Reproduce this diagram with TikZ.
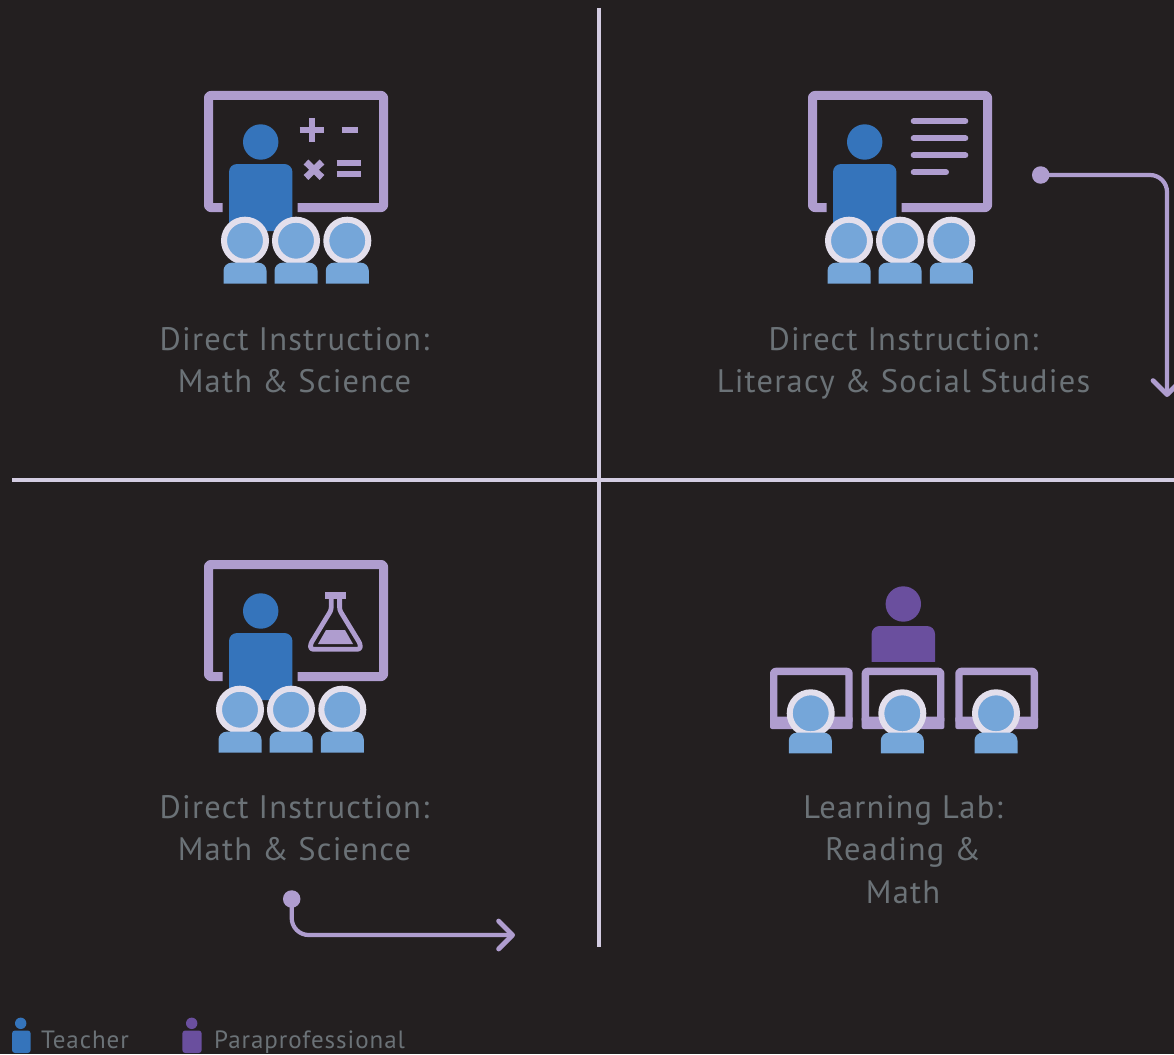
\documentclass[tikz,border=0pt]{standalone}
\usepackage{fontspec}
\setmainfont{PT Sans}[LetterSpace=3.8]
\usetikzlibrary{arrows.meta}
\definecolor{bgc}{HTML}{231F20}
\definecolor{boardc}{HTML}{AF9DCF}
\definecolor{teachc}{HTML}{3574BB}
\definecolor{studc}{HTML}{75A6D9}
\definecolor{ringc}{HTML}{E3DFEC}
\definecolor{parac}{HTML}{6A4F9E}
\definecolor{txtc}{HTML}{6B7277}
\definecolor{axisc}{HTML}{D3CCE2}
\tikzset{
  x=1pt,y=-1pt,
  label/.style={text=txtc,font=\fontsize{32.5}{42.5}\selectfont,align=center,inner sep=0pt},
  legendtxt/.style={text=txtc,font=\fontsize{25}{26}\selectfont,anchor=base west,inner sep=0pt},
  axis/.style={draw=axisc,line width=3.8pt},
  flow/.style={draw=boardc,line width=4.2pt,rounded corners=17pt,line cap=round,
    -{Straight Barb[length=14pt,width=28pt,line width=4.8pt,round]}},
  dot/.style={circle,fill=boardc,minimum size=17.5pt,inner sep=0pt},
  sym/.style={draw=boardc,line width=6pt,line cap=round},
  symb/.style={draw=boardc,line width=6.4pt},
  pics/studenthead/.style={code={
    \path[draw=ringc,fill=studc,line width=6pt] (0,0) circle (21);
  }},
  pics/studentbody/.style={code={
    \path[fill=studc] (-21.5,20.8) -- (-21.5,9) [rounded corners=8pt] -- (-21.5,0) -- (21.5,0) [sharp corners] -- (21.5,20.8) -- cycle;
  }},
  pics/person/.style={code={
    \path[fill=#1] (0,0) circle (17.7);
    \path[fill=#1,rounded corners=8pt] (-31.7,22) rectangle (31.7,89);
  }},
  pics/classroom/.style={code={
    \draw[boardc,line width=9pt,line join=round,rounded corners=2pt]
      (18.6,116.5) -- (4.5,116.5) -- (4.5,4.5) -- (179.5,4.5) -- (179.5,116.5) -- (93.5,116.5);
    \pic at (56.7,51) {person=teachc};
    \foreach \sx in {#1,51+#1,102.3+#1} {
      \pic at (\sx,149.7) {studenthead};
      \pic at (\sx,171.7) {studentbody};
    }
  }},
}
\begin{document}
\begin{tikzpicture}
\useasboundingbox[fill=bgc] (0,0) rectangle (1174,1054);
% axes
\coordinate (vt) at (599,8); \coordinate (vb) at (599,947);
\coordinate (hl) at (12,480); \coordinate (hr) at (1174,480);
\draw[axis] (vt) -- (vb);
\draw[axis] (hl) -- (hr);
% icon 1
\begin{scope}[shift={(204,91)}]
  \pic {classroom=41};
  \draw[symb] (95.7,39) -- (119.7,39) (107.7,27) -- (107.7,51);
  \draw[symb] (137.7,39) -- (154.3,39);
  \draw[symb,line width=6.8pt] (102,71) -- (118,86.5) (118,71) -- (102,86.5);
  \draw[symb] (132.7,71.7) -- (157,71.7) (132.7,83) -- (157,83);
\end{scope}
% icon 2
\begin{scope}[shift={(808,91)}]
  \pic {classroom=41};
  \draw[sym] (105.7,30.3) -- (157.3,30.3) (105.7,47.3) -- (157.3,47.3) (105.7,64.3) -- (157.3,64.3) (105.7,81.3) -- (138,81.3);
\end{scope}
% icon 3
\begin{scope}[shift={(204,560)}]
  \pic {classroom=36};
  \draw[boardc,line width=4.8pt,line join=round,rounded corners=2.5pt]
    (127.2,34) -- (127.2,50) -- (106.5,84) -- (106.5,89.2) -- (156.3,89.2) -- (156.3,84) -- (135.6,50) -- (135.6,34);
  \draw[boardc,line width=7pt] (121,35.5) -- (141.7,35.5);
  \fill[boardc] (122,70) -- (141,70) -- (149,84) -- (114,84) -- cycle;
\end{scope}
% icon 4
\pic at (903.3,604) {person=parac};
\fill[bgc] (865,662) rectangle (945,700);
\foreach \bx/\cx/\sx in {770/810.7/810.3,861.7/902.3/902.3,955.3/996/996}{
  \draw[boardc,line width=7.4pt,line join=round,rounded corners=2pt] (\bx+3.7,671.4) rectangle (\bx+79,722);
  \fill[boardc,rounded corners=2pt] (\bx,716.5) rectangle (\bx+82.7,729);
  \pic at (\cx,713.3) {studenthead};
  \pic at (\sx,732.6) {studentbody};
}
% labels
\node[label,anchor=base] (l1) at (294.5,392.5) {Direct Instruction:\\Math \& Science};
\node[label,anchor=base] (l2) at (903.5,392.5) {Direct Instruction:\\Literacy \& Social Studies};
\node[label,anchor=base] (l3) at (294.5,860.5) {Direct Instruction:\\Math \& Science};
\node[label,anchor=base] (l4) at (903,903) {Learning Lab:\\Reading \&\\Math};
% connectors
\node[dot] (d1) at (1040.7,175) {};
\coordinate (e1) at (1167,397);
\draw[flow] (d1.center) -| (e1);
\node[dot] (d2) at (291.7,899) {};
\coordinate (e2) at (515,935);
\draw[flow] (d2.center) |- (e2);
% legend
\fill[teachc] (20.7,1023.3) circle (5.7);
\fill[teachc,rounded corners=3pt] (12,1030.5) rectangle (30.7,1053);
\node[legendtxt] (lt) at (41,1048) {Teacher};
\fill[parac] (191.7,1023.3) circle (5.7);
\fill[parac,rounded corners=3pt] (182.3,1030.5) rectangle (201.7,1053);
\node[legendtxt] (lp) at (214,1048) {Paraprofessional};
\end{tikzpicture}
\end{document}
